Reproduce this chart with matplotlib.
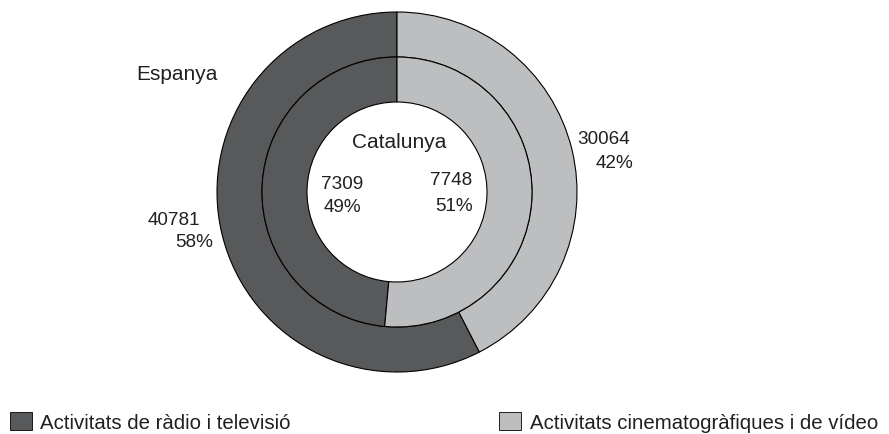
import matplotlib
matplotlib.use("Agg")
import matplotlib.pyplot as plt
from matplotlib.patches import Patch

plt.rcParams['font.family'] = ['Liberation Sans', 'DejaVu Sans']

# data
categories = ['Activitats de ràdio i televisió', 'Activitats cinematogràfiques i de vídeo']
espanya = [40781, 30064]
catalunya = [7309, 7748]
colors = ['#58595b', '#bcbec0']
txt = '#231f20'

def pct(vals):
    s = sum(vals)
    return [round(100 * v / s) for v in vals]

fig = plt.figure(figsize=(8.89, 4.35), dpi=100)
ax = fig.add_axes([0, 0, 1, 1])

H = 435
cx, cy = 397, H - 193
wp = dict(edgecolor='black', linewidth=0.8)
ax.pie(espanya, colors=colors, startangle=90, counterclock=True,
       radius=180, center=(cx, cy), wedgeprops=dict(width=45, **wp), frame=True)
ax.pie(catalunya, colors=colors, startangle=90, counterclock=True,
       radius=135, center=(cx, cy), wedgeprops=dict(width=45, **wp), frame=True)
ax.set_xlim(0, 889)
ax.set_ylim(0, H)
ax.set_aspect('equal')
ax.axis('off')

fw = 15    # words
fn = 13.6  # numbers
pe, pc = pct(espanya), pct(catalunya)
ax.text(136, H - 75, 'Espanya', fontsize=fw, color=txt, ha='left', va='center')
ax.text(399, H - 143, 'Catalunya', fontsize=fw, color=txt, ha='center', va='center')

ax.text(148, H - 221, f'{espanya[0]}', fontsize=fn, color=txt, ha='left', va='center')
ax.text(213, H - 243, f'{pe[0]}%', fontsize=fn, color=txt, ha='right', va='center')
ax.text(577, H - 140, f'{espanya[1]}', fontsize=fn, color=txt, ha='left', va='center')
ax.text(633, H - 163, f'{pe[1]}%', fontsize=fn, color=txt, ha='right', va='center')

ax.text(321, H - 185, f'{catalunya[0]}', fontsize=fn, color=txt, ha='left', va='center')
ax.text(342, H - 208, f'{pc[0]}%', fontsize=fn, color=txt, ha='center', va='center')
ax.text(472, H - 181, f'{catalunya[1]}', fontsize=fn, color=txt, ha='right', va='center')
ax.text(473, H - 207, f'{pc[1]}%', fontsize=fn, color=txt, ha='right', va='center')

fl = 14.7
handles = [Patch(facecolor=c, edgecolor='black', linewidth=0.6) for c in colors]
leg = fig.legend(handles, categories, ncol=2, loc='lower left',
                 bbox_to_anchor=(10 / 889, 2 / H), frameon=False, fontsize=fl,
                 handlelength=1.07, handleheight=0.97, handletextpad=0.42,
                 columnspacing=10.2, borderpad=0, borderaxespad=0)
for t in leg.get_texts():
    t.set_color(txt)

fig.savefig('out.png', dpi=100)
